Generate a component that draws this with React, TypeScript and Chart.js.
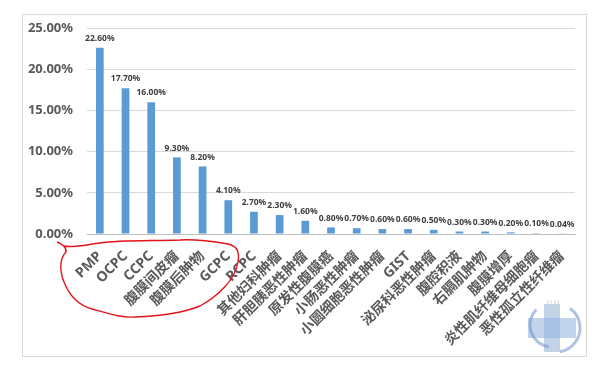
import React, { useEffect, useRef } from "react";
import { Chart, registerables } from "chart.js";

Chart.register(...registerables);

const categories = [
  "PMP", "OCPC", "CCPC", "腹膜间皮瘤", "腹膜后肿物", "GCPC", "RCPC",
  "其他妇科肿瘤", "肝胆胰恶性肿瘤", "原发性腹膜癌", "小肠恶性肿瘤",
  "小圆细胞恶性肿瘤", "GIST", "泌尿科恶性肿瘤", "腹腔积液", "右膈肌肿物",
  "腹膜增厚", "炎性肌纤维母细胞瘤", "恶性孤立性纤维瘤",
];
const values = [22.6, 17.7, 16.0, 9.3, 8.2, 4.1, 2.7, 2.3, 1.6, 0.8, 0.7, 0.6, 0.6, 0.5, 0.3, 0.3, 0.2, 0.1, 0.04];
const yTicks = [0, 5, 10, 15, 20, 25];

const FONT = '"Noto Sans", "Noto Sans CJK SC", sans-serif';

const decorPlugin = {
  id: "decor",
  beforeDraw(chart: any) {
    const ctx = chart.ctx;
    ctx.save();
    ctx.fillStyle = "#ffffff";
    ctx.fillRect(0, 0, chart.width, chart.height);
    ctx.strokeStyle = "#d9d9d9";
    ctx.lineWidth = 1;
    ctx.strokeRect(22.5, 14.5, 564, 342);
    ctx.restore();
  },
  afterDatasetsDraw(chart: any) {
    const ctx = chart.ctx;
    const meta = chart.getDatasetMeta(0);
    ctx.save();
    ctx.font = `bold 8.5px ${FONT}`;
    ctx.fillStyle = "#404040";
    ctx.textAlign = "center";
    ctx.textBaseline = "bottom";
    meta.data.forEach((bar: any, i: number) => {
      const v = values[i];
      ctx.fillText(v.toFixed(2) + "%", bar.x, bar.y - 5);
    });
    ctx.restore();
  },
  afterDraw(chart: any) {
    const ctx = chart.ctx;
    ctx.save();
    // hand-drawn red annotation
    ctx.strokeStyle = "#e3141c";
    ctx.lineWidth = 1.4;
    ctx.lineJoin = "round";
    ctx.beginPath();
    ctx.moveTo(57, 242);
    ctx.bezierCurveTo(62, 244, 67, 248, 66, 252);
    ctx.bezierCurveTo(60, 258, 59, 270, 64, 282);
    ctx.bezierCurveTo(69, 295, 78, 305, 92, 309);
    ctx.bezierCurveTo(110, 314, 122, 318, 135, 317);
    ctx.bezierCurveTo(160, 316, 185, 312, 200, 306);
    ctx.bezierCurveTo(218, 296, 235, 280, 238, 262);
    ctx.bezierCurveTo(240, 250, 236, 246, 228, 244);
    ctx.bezierCurveTo(210, 241, 195, 239, 180, 240);
    ctx.bezierCurveTo(150, 241, 120, 240, 100, 243);
    ctx.bezierCurveTo(85, 245, 72, 248, 64, 246);
    ctx.stroke();

    // simple logo approximation
    ctx.globalAlpha = 0.55;
    ctx.fillStyle = "#8fb0dc";
    ctx.fillRect(528, 318, 48, 20);
    ctx.fillRect(544, 304, 16, 48);
    ctx.fillStyle = "#c7cdd6";
    for (let k = 0; k < 4; k++) {
      ctx.fillRect(547 + k * 3.5, 300, 1.6, 16);
      ctx.fillRect(547 + k * 3.5, 338, 1.6, 14);
    }
    ctx.strokeStyle = "#6b92cb";
    ctx.lineWidth = 3;
    ctx.beginPath();
    ctx.arc(552, 325, 22, Math.PI * 0.55, Math.PI * 1.25);
    ctx.stroke();
    ctx.beginPath();
    ctx.arc(556, 328, 24, Math.PI * 1.7, Math.PI * 0.45);
    ctx.stroke();
    ctx.restore();
  },
};

export default function App() {
  const ref = useRef<HTMLCanvasElement>(null);
  useEffect(() => {
    document.body.style.margin = "0";
    const chart = new Chart(ref.current!, {
      type: "bar",
      data: {
        labels: categories,
        datasets: [
          {
            data: values,
            backgroundColor: "#5b9bd5",
            categoryPercentage: 1,
            barPercentage: 0.3,
          },
        ],
      },
      options: {
        animation: false,
        responsive: false,
        layout: { padding: { left: 0, right: 25, top: 28, bottom: 0 } },
        plugins: { legend: { display: false }, tooltip: { enabled: false } },
        scales: {
          x: {
            grid: { display: false, drawTicks: false },
            border: { display: true, color: "#bfbfbf" },
            ticks: {
              autoSkip: false,
              minRotation: 45,
              maxRotation: 45,
              padding: 14,
              color: "#595959",
              font: { family: FONT, size: 14, weight: "bold" },
            },
            afterFit(scale: any) {
              scale.height = 134;
            },
          },
          y: {
            min: 0,
            max: 25,
            afterBuildTicks(scale: any) {
              scale.ticks = yTicks.map((v) => ({ value: v }));
            },
            grid: { color: "#d9d9d9", drawTicks: false },
            border: { display: false },
            ticks: {
              padding: 14,
              color: "#595959",
              font: { family: FONT, size: 13, weight: "bold" },
              callback: (v: any) => Number(v).toFixed(2) + "%",
            },
            afterFit(scale: any) {
              scale.width = 87;
            },
          },
        },
      },
      plugins: [decorPlugin],
    });
    return () => chart.destroy();
  }, []);
  return (
    <div style={{ position: "relative", width: 600, height: 368, background: "#fff" }}>
      <canvas ref={ref} width={600} height={368} style={{ display: "block" }} />
    </div>
  );
}
